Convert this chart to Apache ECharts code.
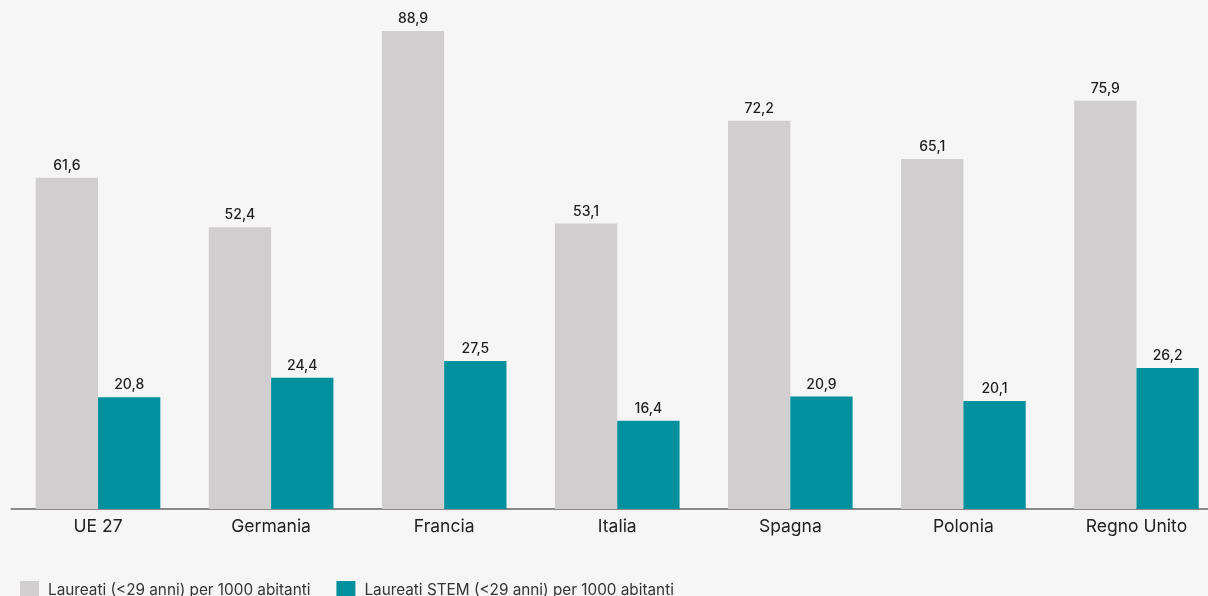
<!DOCTYPE html>
<html>
<head>
<meta charset="utf-8">
<script src="https://cdn.jsdelivr.net/npm/echarts@6/dist/echarts.min.js"></script>
<style>
  html, body { margin: 0; padding: 0; background: #f6f6f6; overflow: hidden; }
  #chart { width: 1224px; height: 596px; }
</style>
</head>
<body>
<div id="chart"></div>
<script>
const categories = ['UE 27', 'Germania', 'Francia', 'Italia', 'Spagna', 'Polonia', 'Regno Unito'];
const laureati = [61.6, 52.4, 88.9, 53.1, 72.2, 65.1, 75.9];
const laureatiStem = [20.8, 24.4, 27.5, 16.4, 20.9, 20.1, 26.2];
const seriesNames = ['Laureati (<29 anni) per 1000 abitanti', 'Laureati STEM (<29 anni) per 1000 abitanti'];

const chart = echarts.init(document.getElementById('chart'));
const fmt = p => String(p.value).replace('.', ',');
const labelStyle = {
    show: true,
    position: 'top',
    distance: 5,
    color: '#1e1e1e',
    fontFamily: 'Inter',
    fontSize: 14,
    fontWeight: 500,
    formatter: fmt
};

chart.setOption({
    backgroundColor: '#f6f6f6',
    grid: { left: 11.5, right: 1, top: 25, bottom: 87 },
    legend: {
        left: 15,
        top: 576,
        itemWidth: 19,
        itemHeight: 19,
        itemGap: 26,
        icon: 'rect',
        textStyle: { fontFamily: 'Inter', fontSize: 15.3, color: '#333', padding: [0, 0, 0, 4] },
        data: seriesNames
    },
    xAxis: {
        type: 'category',
        data: categories,
        axisLine: { lineStyle: { color: '#8a8a8a', width: 2 } },
        axisTick: { show: false },
        axisLabel: { color: '#222', fontFamily: 'Inter', fontSize: 17.5, margin: 9 }
    },
    yAxis: {
        type: 'value',
        min: 0,
        max: 90,
        show: false
    },
    series: [
        {
            name: seriesNames[0],
            type: 'bar',
            data: laureati,
            barGap: '0%',
            barCategoryGap: '28%',
            itemStyle: { color: '#d0cecf' },
            label: labelStyle
        },
        {
            name: seriesNames[1],
            type: 'bar',
            data: laureatiStem,
            itemStyle: { color: '#00909e' },
            label: labelStyle
        }
    ]
});
</script>
</body>
</html>
